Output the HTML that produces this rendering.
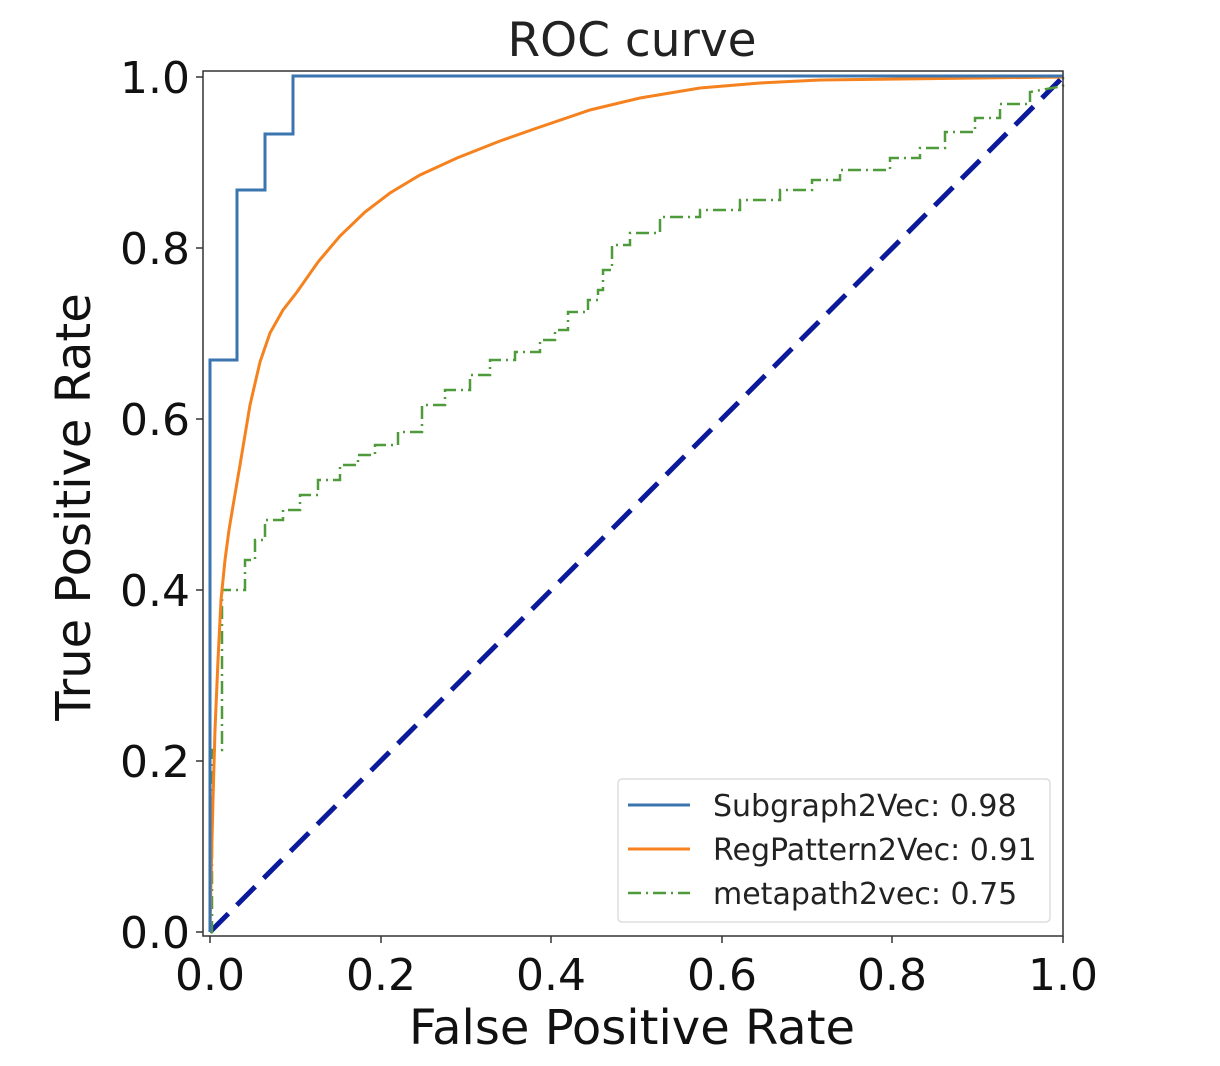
<!DOCTYPE html>
<html><head><style>body{margin:0;background:#fff}svg{display:block}</style></head><body>
<svg width="1220" height="1066" viewBox="0 0 1220 1066" xmlns="http://www.w3.org/2000/svg" font-family="'DejaVu Sans','Liberation Sans',sans-serif">
<rect width="1220" height="1066" fill="#fff"/>
<text x="632" y="56" font-size="47" text-anchor="middle" fill="#222">ROC curve</text>
<line x1="210" y1="932" x2="1063" y2="77" stroke="#0b1a9b" stroke-width="5" stroke-dasharray="26,12"/>
<polyline fill="none" stroke="#4f9a3a" stroke-width="2.5" stroke-dasharray="13,5,2,5" points="210,932 212,932 212,750 222,750 222,590 245,590 245,560 255,560 255,540 265,540 265,520 283,520 283,510 300,510 300,495 318,495 318,480 340,480 340,465 358,465 358,455 375,455 375,445 398,445 398,432 422,432 422,405 445,405 445,390 470,390 470,375 490,375 490,360 515,360 515,352 540,352 540,340 555,340 555,330 568,330 568,312 588,312 588,300 598,300 598,290 603,290 603,270 612,270 612,245 630,245 630,233 660,233 660,217 700,217 700,210 740,210 740,200 780,200 780,190 812,190 812,180 840,180 840,170 890,170 890,158 920,158 920,148 945,148 945,132 975,132 975,118 1000,118 1000,104 1030,104 1030,92 1063,86 1063,77"/>
<polyline fill="none" stroke="#f5821f" stroke-width="3" points="210,932 211,880 213,800 215,730 218,660 221,600 225,560 229,530 233,506 240,465 250,405 260,362 270,333 283,310 297,292 318,262 340,236 365,212 390,193 420,175 457,158 500,141 540,127 590,110 640,98 700,88 760,83 820,80 900,79 980,78 1063,77"/>
<polyline fill="none" stroke="#3a75b0" stroke-width="3" points="210,932 210,360 237,360 237,190 265,190 265,134 293,134 293,76 1063,76"/>
<rect x="203" y="71" width="860" height="865" fill="none" stroke="#333" stroke-width="1.5"/>
<g stroke="#333" stroke-width="1.5">
<line x1="196" y1="77" x2="203" y2="77"/><line x1="196" y1="248" x2="203" y2="248"/><line x1="196" y1="419" x2="203" y2="419"/><line x1="196" y1="590" x2="203" y2="590"/><line x1="196" y1="761" x2="203" y2="761"/><line x1="196" y1="932" x2="203" y2="932"/>
<line x1="210" y1="936" x2="210" y2="943"/><line x1="381" y1="936" x2="381" y2="943"/><line x1="551" y1="936" x2="551" y2="943"/><line x1="722" y1="936" x2="722" y2="943"/><line x1="892" y1="936" x2="892" y2="943"/><line x1="1063" y1="936" x2="1063" y2="943"/>
</g>
<g font-size="44" fill="#111" text-anchor="end">
<text x="190" y="93">1.0</text><text x="190" y="264">0.8</text><text x="190" y="435">0.6</text><text x="190" y="606">0.4</text><text x="190" y="777">0.2</text><text x="190" y="948">0.0</text>
</g>
<g font-size="44" fill="#111" text-anchor="middle">
<text x="210" y="990">0.0</text><text x="381" y="990">0.2</text><text x="551" y="990">0.4</text><text x="722" y="990">0.6</text><text x="892" y="990">0.8</text><text x="1063" y="990">1.0</text>
</g>
<text x="632" y="1044" font-size="48" text-anchor="middle" fill="#111">False Positive Rate</text>
<text transform="translate(90,507) rotate(-90)" font-size="48" text-anchor="middle" fill="#111">True Positive Rate</text>
<rect x="618" y="779" width="432" height="143" rx="4" fill="#fff" stroke="#ddd" stroke-width="1.5"/>
<line x1="628" y1="805" x2="690" y2="805" stroke="#3a75b0" stroke-width="3"/>
<line x1="628" y1="849" x2="690" y2="849" stroke="#f5821f" stroke-width="3"/>
<line x1="628" y1="893" x2="690" y2="893" stroke="#4f9a3a" stroke-width="2.5" stroke-dasharray="13,5,2,5"/>
<g font-size="30" fill="#222">
<text x="713" y="816">Subgraph2Vec: 0.98</text>
<text x="713" y="860">RegPattern2Vec: 0.91</text>
<text x="713" y="904">metapath2vec: 0.75</text>
</g>
</svg>
</body></html>
